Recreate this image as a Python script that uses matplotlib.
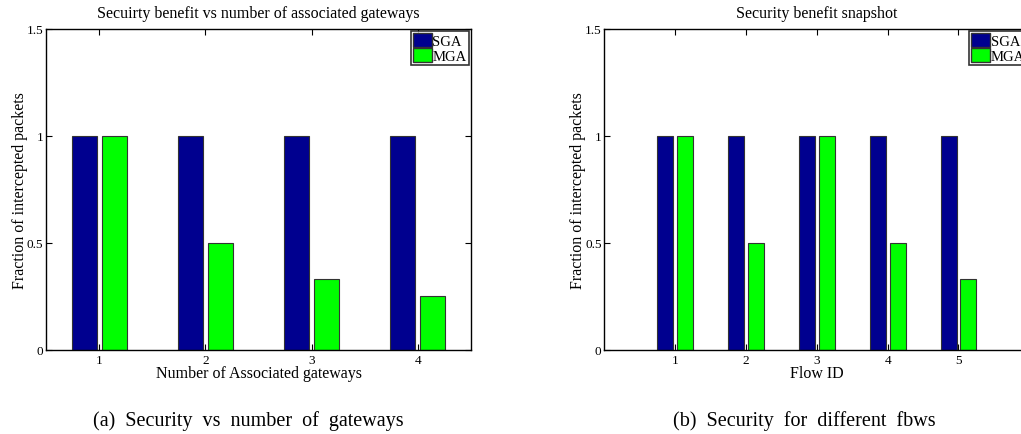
import matplotlib
matplotlib.use('Agg')
import matplotlib.pyplot as plt
from matplotlib.patches import Patch
import numpy as np

plt.rcParams['font.family'] = 'Liberation Serif'

# data
gateways = [1, 2, 3, 4]
sga_gateways = [1.0, 1.0, 1.0, 1.0]
mga_gateways = [1.0, 0.5, 0.33, 0.25]

flow_ids = [1, 2, 3, 4, 5]
sga_flows = [1.0, 1.0, 1.0, 1.0, 1.0]
mga_flows = [1.0, 0.5, 1.0, 0.5, 0.33]

series_names = ['SGA', 'MGA']
sga_color = '#00008f'
mga_color = '#00ff00'

W, H = 1021, 435


def style_axes(ax, xticks, xlim):
    ax.set_xlim(*xlim)
    ax.set_ylim(0, 1.5)
    ax.set_xticks(xticks)
    ax.set_yticks([0, 0.5, 1, 1.5])
    ax.set_yticklabels(['0', '0.5', '1', '1.5'])
    ax.tick_params(direction='in', top=True, right=True, length=4, width=0.8,
                   labelsize=9.5)
    ax.tick_params(axis='x', pad=3)
    ax.tick_params(axis='y', pad=2)
    for s in ax.spines.values():
        s.set_linewidth(1.0)


def grouped_bars(ax, x, a, b, width, offset):
    x = np.asarray(x, dtype=float)
    ax.bar(x - offset, a, width, color=sga_color, edgecolor='#333333', linewidth=0.8)
    ax.bar(x + offset, b, width, color=mga_color, edgecolor='#333333', linewidth=0.8)


def add_legend(ax):
    handles = [Patch(facecolor=sga_color, edgecolor='#333333'),
               Patch(facecolor=mga_color, edgecolor='#333333')]
    leg = ax.legend(handles, series_names, loc='upper right', fontsize=10.5,
                    frameon=True, fancybox=False, handlelength=1.3, handleheight=1.1,
                    handletextpad=0.05, labelspacing=0.0, borderpad=0.15,
                    borderaxespad=0.15)
    leg.get_frame().set_edgecolor('black')
    leg.get_frame().set_linewidth(1.2)


fig = plt.figure(figsize=(W / 100, H / 100), dpi=100)

bottom = (H - 351) / H
height = 321.5 / H

# (a) number of gateways
ax1 = fig.add_axes([46 / W, bottom, 425 / W, height])
grouped_bars(ax1, gateways, sga_gateways, mga_gateways, 0.235, 0.142)
style_axes(ax1, gateways, (0.5, 4.5))
ax1.set_title('Secuirty benefit vs number of associated gateways', fontsize=11.5, pad=8)
ax1.set_xlabel('Number of Associated gateways', fontsize=11.5, labelpad=-1)
ax1.set_ylabel('Fraction of intercepted packets', fontsize=11.5, labelpad=-1)
add_legend(ax1)

# (b) per-flow snapshot (axes runs past the right edge, as in the original)
ax2 = fig.add_axes([604.3 / W, bottom, 425 / W, height])
grouped_bars(ax2, flow_ids, sga_flows, mga_flows, 0.225, 0.14)
style_axes(ax2, flow_ids, (0, 6))
ax2.set_title('Security benefit snapshot', fontsize=11.5, pad=8)
ax2.set_xlabel('Flow ID', fontsize=11.5, labelpad=-1)
ax2.set_ylabel('Fraction of intercepted packets', fontsize=11.5, labelpad=-1)
add_legend(ax2)

fig.text(248 / W, 1 - 421 / H, '(a)  Security  vs  number  of  gateways',
         ha='center', va='center', fontsize=14.5)
fig.text(804 / W, 1 - 421 / H, '(b)  Security  for  different  fbws',
         ha='center', va='center', fontsize=14.5)

fig.savefig('out.png', dpi=100)
